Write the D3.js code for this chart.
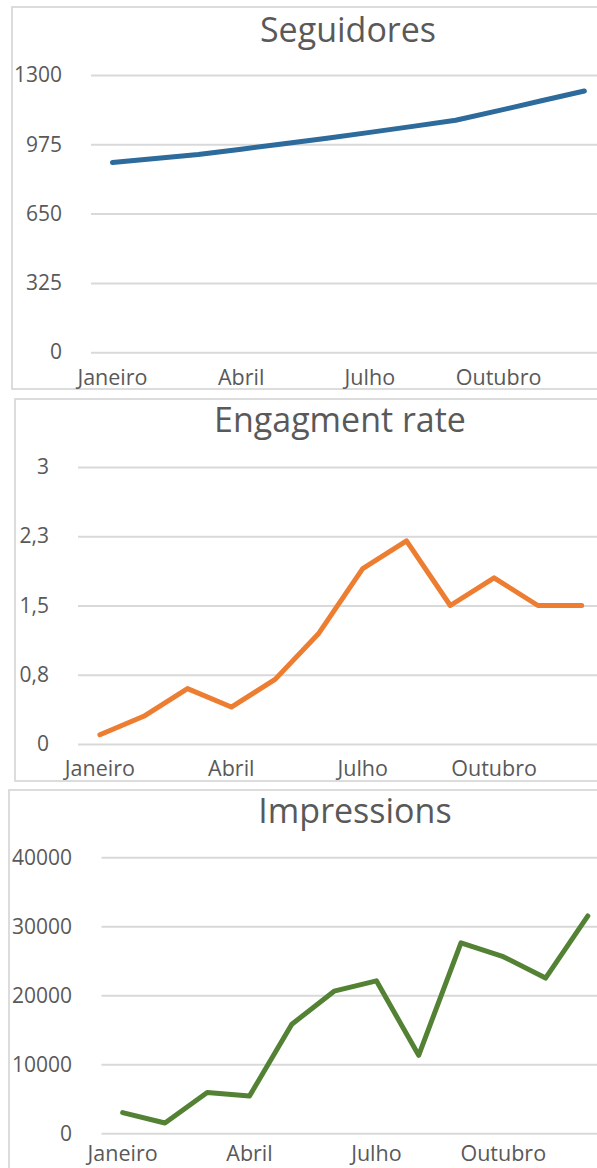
<!DOCTYPE html>
<html>
<head>
<meta charset="utf-8">
<script src="https://cdn.jsdelivr.net/npm/d3@7"></script>
<style>
  html, body { margin: 0; padding: 0; background: #ffffff; }
  svg { display: block; }
  text { font-family: "Open Sans", "DejaVu Sans", sans-serif; fill: #595959; }
</style>
</head>
<body>
<svg id="chart" width="597" height="1168"></svg>
<script>
// ---- data ----
const months = ["Janeiro", "Fevereiro", "Março", "Abril", "Maio", "Junho",
                "Julho", "Agosto", "Setembro", "Outubro", "Novembro", "Dezembro"];
const shownMonths = ["Janeiro", "Abril", "Julho", "Outubro"];

const seguidores = [890, 908, 927, 952, 978, 1003, 1031, 1059, 1088, 1133, 1179, 1225];
const seguidoresTicks = [0, 325, 650, 975, 1300];
const seguidoresTickLabels = ["0", "325", "650", "975", "1300"];

const engagement = [0.1, 0.3, 0.6, 0.4, 0.7, 1.2, 1.9, 2.2, 1.5, 1.8, 1.5, 1.5];
const engagementTicks = [0, 0.75, 1.5, 2.25, 3];
const engagementTickLabels = ["0", "0,8", "1,5", "2,3", "3"];

const impressions = [3000, 1500, 5900, 5400, 15800, 20600, 22100, 11300, 27600, 25600, 22500, 31500];
const impressionsTicks = [0, 10000, 20000, 30000, 40000];
const impressionsTickLabels = ["0", "10000", "20000", "30000", "40000"];

const titles = ["Seguidores", "Engagment rate", "Impressions"];

// ---- layout ----
const svg = d3.select("#chart");
const gridColor = "#d9d9d9";

const panels = [
  { title: titles[0], values: seguidores, ticks: seguidoresTicks, tickLabels: seguidoresTickLabels,
    color: "#2c6b9c",
    box: [12, 7, 640, 389], titleX: 348, titleY: 42,
    xRange: [91, 605.8], yRange: [352.2, 75], labelRight: 62, xLabelBase: 385 },
  { title: titles[1], values: engagement, ticks: engagementTicks, tickLabels: engagementTickLabels,
    color: "#ed7d31",
    box: [15, 399, 640, 781], titleX: 340, titleY: 432,
    xRange: [78, 603.6], yRange: [744, 467], labelRight: 49, xLabelBase: 776 },
  { title: titles[2], values: impressions, ticks: impressionsTicks, tickLabels: impressionsTickLabels,
    color: "#548235",
    box: [9, 790, 640, 1200], titleX: 355, titleY: 823,
    xRange: [101.5, 609], yRange: [1133.3, 857.3], labelRight: 72, xLabelBase: 1161 }
];

panels.forEach(p => {
  const g = svg.append("g");
  const [bx0, by0, bx1, by1] = p.box;

  // panel border
  g.append("rect")
    .attr("x", bx0).attr("y", by0)
    .attr("width", bx1 - bx0).attr("height", by1 - by0)
    .attr("fill", "#ffffff")
    .attr("stroke", gridColor).attr("stroke-width", 1.8);

  // title
  g.append("text")
    .attr("x", p.titleX).attr("y", p.titleY)
    .attr("text-anchor", "middle")
    .style("font-size", "34px")
    .text(p.title);

  const x = d3.scaleBand().domain(months).range(p.xRange).padding(0);
  const y = d3.scaleLinear().domain([p.ticks[0], p.ticks[p.ticks.length - 1]]).range(p.yRange);
  const gridStart = p.xRange[0];
  const gridEnd = 640;

  // y axis with gridlines
  const yAxis = d3.axisLeft(y)
    .tickValues(p.ticks)
    .tickFormat((d, i) => p.tickLabels[i])
    .tickSizeInner(-(gridEnd - gridStart))
    .tickSizeOuter(0)
    .tickPadding(gridStart - p.labelRight);
  const ya = g.append("g").attr("transform", `translate(${gridStart},0)`).call(yAxis);
  ya.select(".domain").remove();
  ya.selectAll(".tick line").attr("stroke", gridColor).attr("stroke-width", 2);
  ya.selectAll(".tick text")
    .style("font-size", "21px")
    .style("font-family", "'Open Sans', sans-serif")
    .attr("fill", "#595959");

  // x axis labels
  const fs = 21.5;
  const xAxis = d3.axisBottom(x)
    .tickValues(shownMonths)
    .tickSize(0)
    .tickPadding(0);
  const xa = g.append("g").attr("transform", `translate(0,${p.xLabelBase})`).call(xAxis);
  xa.select(".domain").remove();
  xa.selectAll(".tick text")
    .attr("y", 0).attr("dy", 0)
    .style("font-size", fs + "px")
    .style("font-family", "'Open Sans', sans-serif")
    .attr("fill", "#595959");

  // line
  const line = d3.line()
    .x((d, i) => x(months[i]) + x.bandwidth() / 2)
    .y(d => y(d));
  g.append("path")
    .datum(p.values)
    .attr("d", line)
    .attr("fill", "none")
    .attr("stroke", p.color)
    .attr("stroke-width", 5)
    .attr("stroke-linejoin", "round")
    .attr("stroke-linecap", "round");
});
</script>
</body>
</html>
